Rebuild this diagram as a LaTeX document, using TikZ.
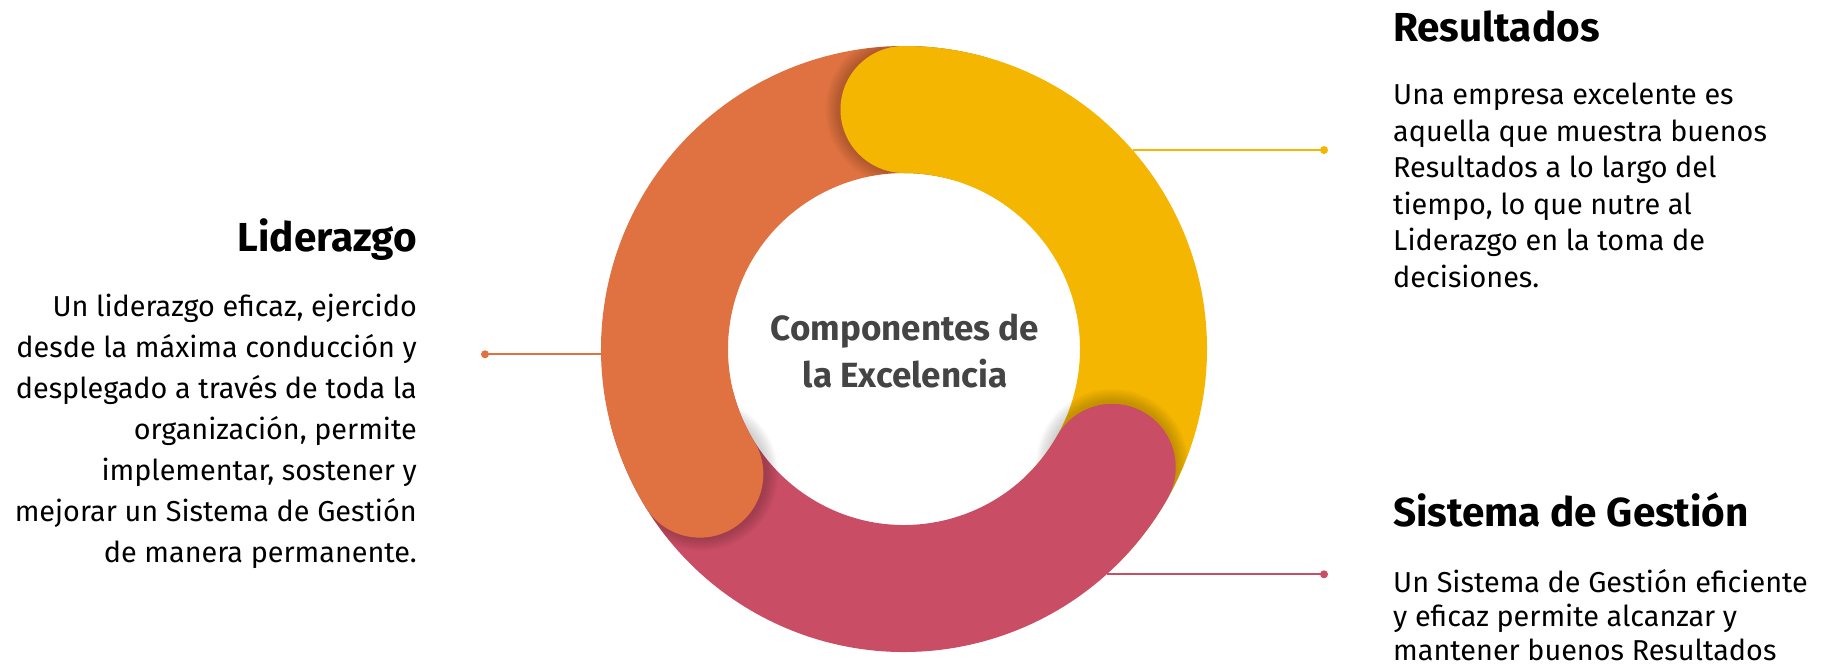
\documentclass[tikz,border=0pt]{standalone}
\usepackage{fontspec}
\setmainfont{Fira Sans}
\definecolor{cOr}{HTML}{DF7240}
\definecolor{cYe}{HTML}{F4B600}
\definecolor{cRe}{HTML}{C84D65}
\definecolor{cGr}{HTML}{444444}
\begin{document}
\begin{tikzpicture}[x=1pt,y=1pt,
  seg/.style={line width=127pt,line cap=round},
  conn/.style={line width=1.8pt},
  dotn/.style={circle,fill,inner sep=0pt,minimum size=8pt},
  ttl/.style={font=\fontsize{40.5}{48}\selectfont\bfseries,inner sep=0pt},
  body/.style={font=\fontsize{28.8}{#1}\selectfont,inner sep=0pt},
  shd/.style={black,opacity=0.022},
]
\useasboundingbox (0,0) rectangle (1833,665);
\coordinate (C) at (904,316);
\node[circle,minimum size=606pt,inner sep=0pt] (ring) at (C) {};
% connectors
\coordinate (oend) at (ring.181.3);
\coordinate (yend) at (ring.41.56);
\coordinate (rend) at (ring.-48.8);
\node[dotn,cOr] (odot) at (oend -| 485,0) {};
\node[dotn,cYe] (ydot) at (yend -| 1324,0) {};
\node[dotn,cRe] (rdot) at (rend -| 1324,0) {};
\draw[conn,cOr] (odot.center) -- (oend);
\draw[conn,cYe] (ydot.center) -- (yend);
\draw[conn,cRe] (rdot.center) -- (rend);
% ring segments
\draw[seg,cYe] (C) ++(90:239.5) arc[start angle=90,end angle=-45,radius=239.5];
\begin{scope}
\clip (C) circle (303);
\foreach \k in {1,...,8}{\fill[shd] (C) ++(-29.6:239.5) ++(0,2) circle ({63.5+\k*1.6});}
\end{scope}
\draw[seg,cRe] (C) ++(-29.6:239.5) arc[start angle=-29.6,end angle=-165,radius=239.5];
\begin{scope}
\clip (C) circle (303);
\foreach \k in {1,...,8}{\fill[shd] (C) ++(211.5:239.5) ++(2,0) circle ({63.5+\k*1.6});}
\end{scope}
\draw[seg,cOr] (C) ++(211.5:239.5) arc[start angle=211.5,end angle=75,radius=239.5];
\begin{scope}[even odd rule]
\clip (C) circle (303) (C) circle (176);
\foreach \k in {1,...,8}{\fill[shd] (C) ++(90:239.5) ++(-2,0) circle ({63.5+\k*1.6});}
\end{scope}
\draw[seg,cYe] (C) ++(90:239.5) arc[start angle=90,end angle=50,radius=239.5];
% center text
\node[font=\fontsize{35}{47}\selectfont\bfseries,text=cGr,align=center,inner sep=0pt] (ctr) at (905,314) {Componentes de\\la Excelencia};
% left
\node[ttl,anchor=base east] (lt) at (417,413) {Liderazgo};
\node[body=41,anchor=base east,align=right] (lb) at (417,103) {Un liderazgo eficaz, ejercido\\desde la máxima conducción y\\desplegado a través de toda la\\organización, permite\\implementar, sostener y\\mejorar un Sistema de Gestión\\de manera permanente.};
% right top
\node[ttl,anchor=base west] (rt) at (1393,623) {Resultados};
\node[body=36.5,anchor=base west,align=left] (rb) at (1393,377.5) {Una empresa excelente es\\aquella que muestra buenos\\Resultados a lo largo del\\tiempo, lo que nutre al\\Liderazgo en la toma de\\decisiones.};
% right bottom
\node[ttl,anchor=base west] (st) at (1393,139) {Sistema de Gestión};
\node[body=34,anchor=base west,align=left] (sb) at (1393,5) {Un Sistema de Gestión eficiente\\y eficaz permite alcanzar y\\mantener buenos Resultados};
\end{tikzpicture}
\end{document}
